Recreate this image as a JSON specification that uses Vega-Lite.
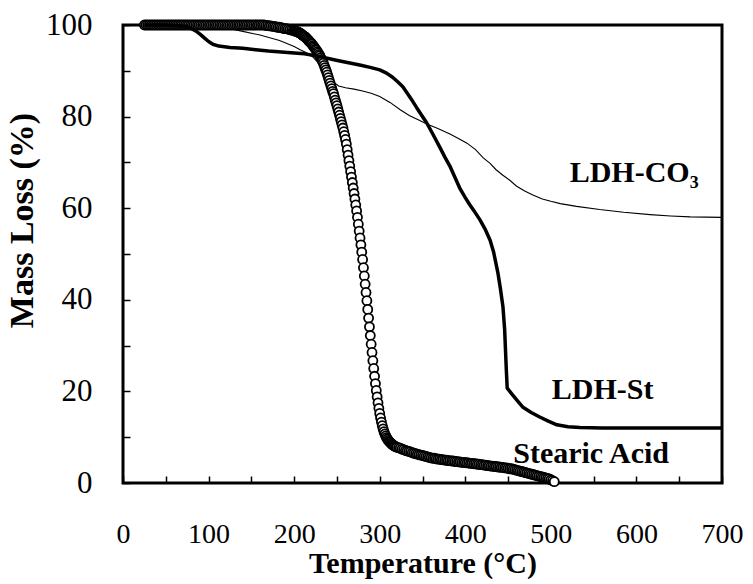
{
  "$schema": "https://vega.github.io/schema/vega-lite/v6.json",
  "width": 599,
  "height": 458,
  "autosize": {"type": "none"},
  "padding": {"left": 123, "top": 25, "right": 31, "bottom": 101},
  "background": "white",
  "config": {
    "view": {"stroke": "black", "strokeWidth": 3},
    "axis": {
      "grid": false,
      "domain": false,
      "tickColor": "black",
      "tickWidth": 1.5,
      "tickSize": -7,
      "labelFont": "Liberation Serif",
      "labelColor": "black",
      "titleFont": "Liberation Serif",
      "titleFontWeight": "bold",
      "titleColor": "black"
    }
  },
  "datasets": {
    "ldhco3": [
      {"T":25,"M":100},{"T":60,"M":100},{"T":90,"M":99.9},{"T":110,"M":99.6},{"T":125,"M":99.2},
      {"T":140,"M":98.6},{"T":160,"M":97.8},{"T":183,"M":96.6},{"T":200,"M":95.3},{"T":207,"M":94.6},
      {"T":215,"M":93.9},{"T":222,"M":93.0},{"T":228,"M":91.8},{"T":235,"M":90.2},{"T":241,"M":88.6},
      {"T":247,"M":87.4},{"T":252,"M":86.7},{"T":260,"M":86.3},{"T":270,"M":86.0},{"T":280,"M":85.6},
      {"T":290,"M":85.1},{"T":300,"M":84.4},{"T":312,"M":83.1},{"T":324,"M":81.5},{"T":335,"M":80.2},
      {"T":345,"M":79.3},{"T":355,"M":78.4},{"T":368,"M":77.4},{"T":382,"M":76.2},{"T":392,"M":75.2},
      {"T":402,"M":74.2},{"T":412,"M":72.8},{"T":421,"M":71.0},{"T":429,"M":69.8},{"T":436,"M":68.4},
      {"T":444,"M":67.2},{"T":452,"M":66.1},{"T":460,"M":64.8},{"T":470,"M":63.7},{"T":479,"M":62.9},
      {"T":490,"M":62.0},{"T":500,"M":61.5},{"T":511,"M":61.0},{"T":530,"M":60.4},{"T":557,"M":59.7},
      {"T":585,"M":59.1},{"T":616,"M":58.6},{"T":640,"M":58.3},{"T":663,"M":58.1},{"T":700,"M":58.0}
    ],
    "ldhst": [
      {"T":25,"M":100},{"T":50,"M":100},{"T":70,"M":99.8},{"T":78,"M":99.4},{"T":85,"M":98.7},
      {"T":90,"M":98.0},{"T":95,"M":97.2},{"T":100,"M":96.4},{"T":105,"M":95.8},{"T":112,"M":95.4},
      {"T":125,"M":95.1},{"T":140,"M":94.9},{"T":155,"M":94.6},{"T":170,"M":94.3},{"T":185,"M":94.1},
      {"T":200,"M":93.9},{"T":212,"M":93.7},{"T":222,"M":93.4},{"T":232,"M":93.0},{"T":240,"M":92.7},
      {"T":252,"M":92.2},{"T":265,"M":91.7},{"T":278,"M":91.2},{"T":290,"M":90.7},{"T":300,"M":90.2},
      {"T":308,"M":89.5},{"T":315,"M":88.6},{"T":321,"M":87.6},{"T":327,"M":86.5},{"T":333,"M":84.9},
      {"T":338,"M":83.5},{"T":343,"M":82.0},{"T":349,"M":80.3},{"T":355,"M":78.6},{"T":362,"M":76.2},
      {"T":370,"M":73.4},{"T":376,"M":71.2},{"T":382,"M":69.2},{"T":388,"M":66.7},{"T":394,"M":64.2},
      {"T":400,"M":62.3},{"T":405,"M":60.8},{"T":411,"M":59.2},{"T":417,"M":57.5},{"T":423,"M":55.5},
      {"T":429,"M":53.0},{"T":433,"M":50.5},{"T":438,"M":46.0},{"T":441,"M":42.5},{"T":444,"M":38.5},
      {"T":446,"M":33.5},{"T":447,"M":29.0},{"T":448,"M":24.5},{"T":449,"M":20.7},{"T":455,"M":19.3},
      {"T":462,"M":17.7},{"T":467,"M":16.6},{"T":477,"M":15.4},{"T":487,"M":14.4},{"T":497,"M":13.5},
      {"T":507,"M":12.7},{"T":520,"M":12.3},{"T":534,"M":12.1},{"T":560,"M":12.0},{"T":600,"M":12.0},
      {"T":650,"M":12.0},{"T":700,"M":12.0}
    ],
    "stearic": [
      {"T":25,"M":100},{"T":27,"M":100},{"T":29,"M":100},{"T":31,"M":100},{"T":33,"M":100},
      {"T":35,"M":100},{"T":37,"M":100},{"T":39,"M":100},{"T":41,"M":100},{"T":43,"M":100},
      {"T":45,"M":100},{"T":47,"M":100},{"T":49,"M":100},{"T":51,"M":100},{"T":53,"M":100},
      {"T":55,"M":100},{"T":57,"M":100},{"T":59,"M":100},{"T":61,"M":100},{"T":63,"M":100},
      {"T":65,"M":100},{"T":67,"M":100},{"T":69,"M":100},{"T":71,"M":100},{"T":73,"M":100},
      {"T":75,"M":100},{"T":77,"M":100},{"T":79,"M":100},{"T":81,"M":100},{"T":83,"M":100},
      {"T":85,"M":100},{"T":87,"M":100},{"T":89,"M":100},{"T":91,"M":100},{"T":93,"M":100},
      {"T":95,"M":100},{"T":97,"M":100},{"T":99,"M":100},{"T":101,"M":100},{"T":103,"M":100},
      {"T":105,"M":100},{"T":107,"M":100},{"T":109,"M":100},{"T":111,"M":100},{"T":113,"M":100},
      {"T":115,"M":100},{"T":117,"M":100},{"T":119,"M":100},{"T":121,"M":100},{"T":123,"M":100},
      {"T":125,"M":100},{"T":127,"M":100},{"T":129,"M":100},{"T":131,"M":100},{"T":133,"M":100},
      {"T":135,"M":100},{"T":137,"M":100},{"T":139,"M":100},{"T":141,"M":100},{"T":143,"M":100},
      {"T":145,"M":100},{"T":147,"M":100},{"T":149,"M":100},{"T":151,"M":100},{"T":153,"M":100},
      {"T":155,"M":100},{"T":157,"M":100},{"T":159,"M":100},{"T":161,"M":100},{"T":163,"M":100},
      {"T":165,"M":100},{"T":167,"M":99.9},{"T":169,"M":99.9},{"T":171,"M":99.8},{"T":173,"M":99.8},
      {"T":175,"M":99.7},{"T":177,"M":99.7},{"T":179,"M":99.6},{"T":181,"M":99.5},{"T":183,"M":99.5},
      {"T":185,"M":99.4},{"T":187,"M":99.3},{"T":189,"M":99.2},{"T":191,"M":99.2},{"T":193,"M":99.1},
      {"T":195,"M":99.0},{"T":197,"M":98.9},{"T":199,"M":98.8},
      {"T":200,"M":98.8},{"T":201,"M":98.7},{"T":202,"M":98.6},{"T":203,"M":98.6},{"T":204,"M":98.5},
      {"T":205,"M":98.4},{"T":206,"M":98.3},{"T":207,"M":98.2},{"T":208,"M":98.1},{"T":209,"M":97.9},
      {"T":210,"M":97.8},{"T":211,"M":97.6},{"T":212,"M":97.5},{"T":213,"M":97.4},{"T":214,"M":97.2},
      {"T":215,"M":97.0},{"T":216,"M":96.8},{"T":217,"M":96.6},{"T":218,"M":96.4},{"T":219,"M":96.2},
      {"T":220,"M":96.0},{"T":221,"M":95.8},{"T":222,"M":95.5},{"T":223,"M":95.3},{"T":224,"M":95.0},
      {"T":225,"M":94.7},{"T":226,"M":94.5},{"T":227,"M":94.2},{"T":228,"M":93.9},{"T":229,"M":93.6},
      {"T":230,"M":93.3},{"T":231,"M":92.9},{"T":232,"M":92.5},{"T":233,"M":92.1},{"T":234,"M":91.7},
      {"T":235,"M":91.2},{"T":236,"M":90.7},{"T":237,"M":90.2},{"T":238,"M":89.7},{"T":239,"M":89.1},
      {"T":240,"M":88.5},{"T":241,"M":87.9},{"T":242,"M":87.3},{"T":243,"M":86.7},{"T":244,"M":86.1},
      {"T":245,"M":85.5},{"T":246,"M":85.0},{"T":247,"M":84.3},{"T":248,"M":83.6},{"T":249,"M":83.0},
      {"T":250,"M":82.4},{"T":251,"M":81.7},{"T":252,"M":81.0},{"T":253,"M":80.3},{"T":254,"M":79.6},
      {"T":255,"M":78.9},{"T":256,"M":78.2},{"T":257,"M":77.5},{"T":258,"M":76.7},{"T":259,"M":75.9},
      {"T":260,"M":75.0},{"T":261,"M":74.0},{"T":262,"M":72.8},{"T":263,"M":71.6},{"T":264,"M":70.4},
      {"T":265,"M":69.2},{"T":266,"M":68.0},{"T":267,"M":66.8},{"T":268,"M":65.6},{"T":269,"M":64.4},
      {"T":270,"M":63.2},{"T":271,"M":62.0},{"T":272,"M":60.7},{"T":273,"M":59.4},{"T":274,"M":58.0},
      {"T":275,"M":56.5},{"T":276,"M":55.0},{"T":277,"M":53.5},{"T":278,"M":52.0},{"T":279,"M":50.4},
      {"T":280,"M":48.8},{"T":281,"M":47.0},{"T":282,"M":45.2},{"T":283,"M":43.4},{"T":284,"M":41.6},
      {"T":285,"M":39.8},{"T":286,"M":37.9},{"T":287,"M":36.0},{"T":288,"M":34.1},{"T":289,"M":32.2},
      {"T":290,"M":30.3},{"T":291,"M":28.5},{"T":292,"M":26.7},{"T":293,"M":25.0},{"T":294,"M":23.3},
      {"T":295,"M":21.7},{"T":296,"M":20.2},{"T":297,"M":18.8},{"T":298,"M":17.5},{"T":299,"M":16.3},
      {"T":300,"M":15.2},{"T":301,"M":14.2},{"T":302,"M":13.3},{"T":303,"M":12.5},{"T":304,"M":11.8},
      {"T":305,"M":11.2},{"T":306,"M":10.7},{"T":307,"M":10.3},{"T":308,"M":9.9},{"T":309,"M":9.6},
      {"T":310,"M":9.3},{"T":311,"M":9.1},{"T":312,"M":8.9},{"T":313,"M":8.7},{"T":314,"M":8.5},
      {"T":315,"M":8.4},{"T":316,"M":8.2},{"T":317,"M":8.1},{"T":318,"M":8.0},{"T":319,"M":7.9},
      {"T":320,"M":7.8},
      {"T":322,"M":7.7},{"T":324,"M":7.6},{"T":326,"M":7.4},{"T":328,"M":7.3},{"T":330,"M":7.1},
      {"T":332,"M":7.0},{"T":334,"M":6.9},{"T":336,"M":6.8},{"T":338,"M":6.6},{"T":340,"M":6.5},
      {"T":342,"M":6.4},{"T":344,"M":6.3},{"T":346,"M":6.2},{"T":348,"M":6.1},{"T":350,"M":6.0},
      {"T":352,"M":5.9},{"T":354,"M":5.8},{"T":356,"M":5.7},{"T":358,"M":5.6},{"T":360,"M":5.5},
      {"T":362,"M":5.4},{"T":364,"M":5.4},{"T":366,"M":5.3},{"T":368,"M":5.2},{"T":370,"M":5.2},
      {"T":372,"M":5.1},{"T":374,"M":5.1},{"T":376,"M":5.0},{"T":378,"M":5.0},{"T":380,"M":4.9},
      {"T":382,"M":4.9},{"T":384,"M":4.8},{"T":386,"M":4.8},{"T":388,"M":4.7},{"T":390,"M":4.7},
      {"T":392,"M":4.6},{"T":394,"M":4.6},{"T":396,"M":4.5},{"T":398,"M":4.5},{"T":400,"M":4.5},
      {"T":402,"M":4.4},{"T":404,"M":4.4},{"T":406,"M":4.3},{"T":408,"M":4.3},{"T":410,"M":4.2},
      {"T":412,"M":4.2},{"T":414,"M":4.1},{"T":416,"M":4.1},{"T":418,"M":4.0},{"T":420,"M":4.0},
      {"T":422,"M":3.9},{"T":424,"M":3.9},{"T":426,"M":3.8},{"T":428,"M":3.8},{"T":430,"M":3.7},
      {"T":432,"M":3.7},{"T":434,"M":3.6},{"T":436,"M":3.6},{"T":438,"M":3.5},{"T":440,"M":3.5},
      {"T":442,"M":3.4},{"T":444,"M":3.4},{"T":446,"M":3.3},{"T":448,"M":3.3},{"T":450,"M":3.2},
      {"T":452,"M":3.1},{"T":454,"M":3.1},{"T":456,"M":3.0},{"T":458,"M":2.9},{"T":460,"M":2.8},
      {"T":462,"M":2.7},{"T":464,"M":2.6},{"T":466,"M":2.5},{"T":468,"M":2.4},{"T":470,"M":2.3},
      {"T":472,"M":2.2},{"T":474,"M":2.1},{"T":476,"M":2.0},{"T":478,"M":1.9},{"T":480,"M":1.8},
      {"T":482,"M":1.7},{"T":484,"M":1.6},{"T":486,"M":1.5},{"T":488,"M":1.4},{"T":490,"M":1.3},
      {"T":492,"M":1.2},{"T":494,"M":1.1},{"T":496,"M":1.0},{"T":498,"M":0.9},{"T":500,"M":0.7},
      {"T":502,"M":0.5},{"T":504,"M":0.3}
    ],
    "labels": [
      {"text": "LDH-CO₃", "T": 522, "M": 65.7},
      {"text": "LDH-St", "T": 501, "M": 18.3},
      {"text": "Stearic Acid", "T": 456, "M": 4.4}
    ]
  },
  "layer": [
    {
      "data": {"name": "ldhco3"},
      "mark": {"type": "line", "color": "black", "strokeWidth": 1.1},
      "encoding": {
        "x": {
          "field": "T", "type": "quantitative",
          "scale": {"domain": [0, 700], "nice": false, "zero": false},
          "axis": {
            "values": [0,50,100,150,200,250,300,350,400,450,500,550,600,650,700],
            "labelExpr": "datum.value % 100 === 0 ? datum.label : ''",
            "labelFontSize": 28,
            "labelPadding": 44,
            "labelFlush": false,
            "title": "Temperature (°C)",
            "titleFontSize": 30,
            "titlePadding": 0
          }
        },
        "y": {
          "field": "M", "type": "quantitative",
          "scale": {"domain": [0, 100], "nice": false},
          "axis": {
            "values": [0,5,10,15,20,25,30,35,40,45,50,55,60,65,70,75,80,85,90,95,100],
            "labelExpr": "datum.value % 20 === 0 ? datum.label : ''",
            "labelFontSize": 31,
            "labelPadding": 38,
            "labelFlush": false,
            "title": "Mass Loss (%)",
            "titleFontSize": 34,
            "titlePadding": 6,
            "titleY": 195
          }
        }
      }
    },
    {
      "data": {"name": "stearic"},
      "mark": {"type": "point", "shape": "circle", "filled": true, "fill": "white", "stroke": "black", "strokeWidth": 1.8, "size": 82, "opacity": 1},
      "encoding": {
        "x": {"field": "T", "type": "quantitative"},
        "y": {"field": "M", "type": "quantitative"}
      }
    },
    {
      "data": {"name": "ldhst"},
      "mark": {"type": "line", "color": "black", "strokeWidth": 3.5, "strokeJoin": "round"},
      "encoding": {
        "x": {"field": "T", "type": "quantitative"},
        "y": {"field": "M", "type": "quantitative"}
      }
    },
    {
      "data": {"name": "labels"},
      "mark": {"type": "text", "align": "left", "baseline": "alphabetic", "font": "Liberation Serif", "fontWeight": "bold", "fontSize": 30, "color": "black"},
      "encoding": {
        "x": {"field": "T", "type": "quantitative"},
        "y": {"field": "M", "type": "quantitative"},
        "text": {"field": "text"}
      }
    }
  ]
}
